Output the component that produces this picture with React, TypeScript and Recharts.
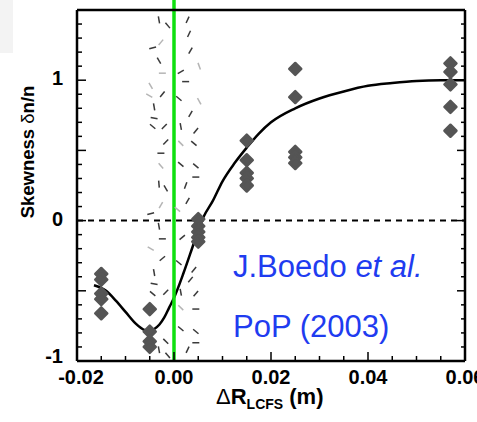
import { ComposedChart, XAxis, YAxis, Line, Scatter, ReferenceLine } from 'recharts'

// measured skewness points (x in m, y skewness)
const skewX = [
  -0.015, -0.015, -0.015, -0.015, -0.015,
  -0.005, -0.005, -0.005, -0.005,
  0.005, 0.005, 0.005, 0.005, 0.005,
  0.015, 0.015, 0.015, 0.015, 0.015,
  0.025, 0.025, 0.025, 0.025, 0.025,
  0.057, 0.057, 0.057, 0.057, 0.057,
]
const skewY = [
  -0.38, -0.42, -0.52, -0.56, -0.66,
  -0.63, -0.79, -0.86, -0.9,
  0.01, -0.04, -0.08, -0.12, -0.15,
  0.57, 0.43, 0.34, 0.3, 0.25,
  1.08, 0.88, 0.49, 0.45, 0.41,
  1.12, 1.06, 0.97, 0.81, 0.64,
]

// fitted curve
const curveX = [-0.0165, -0.014, -0.012, -0.01, -0.008, -0.006, -0.005, -0.004, -0.003, -0.002, -0.001, 0, 0.002, 0.004, 0.005, 0.006, 0.008, 0.01, 0.0125, 0.015, 0.0175, 0.02, 0.025, 0.03, 0.035, 0.04, 0.045, 0.05, 0.055, 0.06]
const curveY = [-0.46, -0.5, -0.57, -0.65, -0.73, -0.78, -0.785, -0.77, -0.74, -0.69, -0.62, -0.55, -0.37, -0.17, -0.07, 0.02, 0.14, 0.28, 0.41, 0.52, 0.62, 0.7, 0.8, 0.87, 0.92, 0.96, 0.98, 0.995, 1.0, 1.0]

// scattered dash marks of the separatrix uncertainty band
const bandX = [-0.0031, -0.0013, 0.0028, -0.0027, 0.0031, -0.0044, 0.0034, -0.0031, 0.0052, -0.0024, 0.0014, 0.0024, -0.0048, -0.0024, -0.0051, 0.001, -0.0041, 0.0052, -0.0041, 0.0034, -0.0044, -0.002, 0.0014, 0.0045, -0.0017, 0.0014, 0.0041, -0.0027, 0.0014, -0.0027, 0.0045, 0.0045, -0.0031, 0.0024, -0.0017, 0.0028, -0.0027, 0.0007, -0.0048, -0.0031, -0.0024, 0.0017, -0.0048, -0.0024, 0.001, -0.0041, 0.0041, -0.0041, 0.0034, -0.0044, -0.0017, 0.0014, 0.0045, 0.0014, 0.0045, 0.0014, 0.0045, -0.0017, 0.0045, -0.0031, 0.0028, -0.0013]
const bandY = [1.43, 1.39, 1.43, 1.27, 1.33, 1.23, 1.21, 1.14, 1.1, 1.05, 1.06, 0.99, 0.96, 0.9, 0.89, 0.87, 0.81, 0.85, 0.73, 0.76, 0.67, 0.67, 0.67, 0.64, 0.56, 0.55, 0.55, 0.48, 0.4, 0.39, 0.39, 0.31, 0.26, 0.25, 0.23, 0.14, 0.11, 0.08, 0.05, -0.04, -0.13, -0.12, -0.2, -0.27, -0.3, -0.37, -0.35, -0.45, -0.42, -0.52, -0.51, -0.51, -0.52, -0.62, -0.63, -0.77, -0.79, -0.86, -0.87, -0.92, -0.92, -0.96]
const bandAngle = [80, 50, -65, -50, -65, -15, -60, 60, 70, 0, -30, 0, 60, -50, 30, 40, 80, 60, 10, -60, 40, -45, 80, -50, -45, 45, 40, 0, 40, 50, 40, 0, 85, -70, 60, -60, -60, 40, -15, 80, 0, -40, 30, -40, 40, 80, -50, 10, -50, 40, -45, 80, -50, 45, 0, 40, 40, 45, 0, 80, -65, 50]
const bandFaint = [0, 0, 0, 1, 0, 0, 0, 0, 1, 1, 0, 0, 1, 0, 1, 0, 0, 1, 0, 0, 0, 0, 0, 0, 0, 1, 0, 0, 0, 1, 0, 0, 0, 0, 0, 0, 1, 1, 0, 0, 0, 0, 1, 0, 0, 0, 0, 0, 0, 0, 0, 0, 0, 1, 0, 0, 0, 0, 0, 0, 0, 0]

const xTicks = [-0.02, -0.015, -0.01, -0.005, 0, 0.005, 0.01, 0.015, 0.02, 0.025, 0.03, 0.035, 0.04, 0.045, 0.05, 0.055, 0.06]
const xLabels = [-0.02, 0, 0.02, 0.04, 0.06]
const yTicks = [-1, -0.9, -0.8, -0.7, -0.6, -0.5, -0.4, -0.3, -0.2, -0.1, 0, 0.1, 0.2, 0.3, 0.4, 0.5, 0.6, 0.7, 0.8, 0.9, 1, 1.1, 1.2, 1.3, 1.4, 1.5]
const yMajor = [-1, -0.5, 0, 0.5, 1]
const yLabels = [-1, 0, 1]

const points = skewX.map((x, i) => ({ x, y: skewY[i] }))
const curve = curveX.map((x, i) => ({ x, y: curveY[i] }))
const band = bandX.map((x, i) => ({ x, y: bandY[i], a: bandAngle[i], f: bandFaint[i] }))

const near = (a: number, b: number) => Math.abs(a - b) < 1e-6
const isXLabel = (v: number) => xLabels.some((t) => near(t, v))
const isYMajor = (v: number) => yMajor.some((t) => near(t, v))
const isYLabel = (v: number) => yLabels.some((t) => near(t, v))

const font = 'Liberation Sans, Arial, sans-serif'
const tickFont = { fontFamily: font, fontWeight: 700, fontSize: 20 }

const BottomTick = ({ x, y, payload }: any) => {
  const v = payload.value
  const major = isXLabel(v)
  return (
    <g>
      <line x1={x} x2={x} y1={y} y2={y - (major ? 9 : 5)} stroke="#000" strokeWidth={1.5} />
      {major && (
        <text x={x + (v < 0 ? 4 : 0)} y={y + 23} textAnchor="middle" fill="#000" style={tickFont}>
          {v.toFixed(2)}
        </text>
      )}
    </g>
  )
}

const TopTick = ({ x, y, payload }: any) => {
  const major = isXLabel(payload.value)
  return <line x1={x} x2={x} y1={y} y2={y + (major ? 8 : 4)} stroke="#000" strokeWidth={1.5} />
}

const LeftTick = ({ x, y, payload }: any) => {
  const v = payload.value
  return (
    <g>
      <line x1={x} x2={x + (isYMajor(v) ? 9 : 5)} y1={y} y2={y} stroke="#000" strokeWidth={1.5} />
      {isYLabel(v) && (
        <text x={x - 14} y={y + (v < 0 ? 2 : 5)} textAnchor="end" fill="#000" style={tickFont}>
          {String(v)}
        </text>
      )}
    </g>
  )
}

const RightTick = ({ x, y, payload }: any) => (
  <line x1={x} x2={x - (isYMajor(payload.value) ? 8 : 4)} y1={y} y2={y} stroke="#000" strokeWidth={1.5} />
)

const Diamond = ({ cx, cy }: any) => (
  <polygon
    points={`${cx},${cy - 6} ${cx + 6},${cy} ${cx},${cy + 6} ${cx - 6},${cy}`}
    fill="#555"
    stroke="#555"
    strokeWidth={2.5}
    strokeLinejoin="round"
  />
)

const Dash = ({ cx, cy, payload }: any) => {
  const r = (payload.a * Math.PI) / 180
  const dx = Math.cos(r) * 3.5
  const dy = Math.sin(r) * 3.5
  return (
    <line
      x1={cx - dx}
      y1={cy - dy}
      x2={cx + dx}
      y2={cy + dy}
      stroke={payload.f ? '#b5b5b5' : '#3a3a3a'}
      strokeWidth={1.5}
    />
  )
}

const GreenLine = (p: any) => (
  <line x1={p.x1} x2={p.x2} y1={0} y2={Math.max(p.y1, p.y2)} stroke="#0fe00f" strokeWidth={3.5} />
)

export default function App() {
  return (
    <div style={{ position: 'absolute', left: 0, top: 0, width: 477, height: 422, background: '#fff', overflow: 'hidden' }}>
      <div style={{ position: 'absolute', left: 0, top: 0, width: 13, height: 53, background: '#f3f3f3' }} />
      <ComposedChart
        width={477}
        height={422}
        margin={{ top: 9, right: 11, left: 76, bottom: 60 }}
        style={{ position: 'absolute', left: 0, top: 0 }}
      >
        <XAxis
          dataKey="x"
          type="number"
          domain={[-0.02, 0.06]}
          ticks={xTicks}
          interval={0}
          height={1}
          tickSize={0}
          tickMargin={0}
          tickLine={false}
          tick={<BottomTick />}
          axisLine={{ stroke: '#000', strokeWidth: 2.5 }}
          allowDataOverflow
        />
        <XAxis
          xAxisId="top"
          orientation="top"
          type="number"
          domain={[-0.02, 0.06]}
          ticks={xTicks}
          interval={0}
          height={1}
          tickSize={0}
          tickMargin={0}
          tickLine={false}
          tick={<TopTick />}
          axisLine={{ stroke: '#000', strokeWidth: 2.5 }}
          allowDataOverflow
        />
        <YAxis
          dataKey="y"
          type="number"
          domain={[-1, 1.5]}
          ticks={yTicks}
          interval={0}
          width={1}
          tickSize={0}
          tickMargin={0}
          tickLine={false}
          tick={<LeftTick />}
          axisLine={{ stroke: '#000', strokeWidth: 2.5 }}
          allowDataOverflow
        />
        <YAxis
          yAxisId="right"
          orientation="right"
          type="number"
          domain={[-1, 1.5]}
          ticks={yTicks}
          interval={0}
          width={1}
          tickSize={0}
          tickMargin={0}
          tickLine={false}
          tick={<RightTick />}
          axisLine={{ stroke: '#000', strokeWidth: 2.5 }}
          allowDataOverflow
        />
        <Scatter data={band} dataKey="y" shape={<Dash />} isAnimationActive={false} />
        <ReferenceLine y={0} stroke="#000" strokeWidth={2} strokeDasharray="6 5" />
        <Scatter data={points} dataKey="y" shape={<Diamond />} isAnimationActive={false} />
        <Line data={curve} dataKey="y" type="monotone" stroke="#000" strokeWidth={2.5} dot={false} isAnimationActive={false} />
        <ReferenceLine x={0} shape={GreenLine} />
      </ComposedChart>
      <svg width={477} height={422} style={{ position: 'absolute', left: 0, top: 0, pointerEvents: 'none' }}>
        <text
          transform="translate(34,152) rotate(-90)"
          textAnchor="middle"
          fill="#000"
          style={{ fontFamily: font, fontWeight: 700, fontSize: 18.5 }}
        >
          Skewness <tspan fontWeight={400}>δ</tspan>n/n
        </text>
        <text x={216} y={404} fill="#000" style={{ fontFamily: font, fontWeight: 700, fontSize: 22 }}>
          <tspan fontWeight={400}>Δ</tspan>R
          <tspan fontSize={14} dy={5}>LCFS</tspan>
          <tspan dy={-5}> (m)</tspan>
        </text>
        <text x={233} y={277} fill="#1f3cf0" style={{ fontFamily: font, fontSize: 31 }}>
          J.Boedo <tspan fontStyle="italic">et al.</tspan>
        </text>
        <text x={233} y={337} fill="#1f3cf0" style={{ fontFamily: font, fontSize: 31 }}>
          PoP (2003)
        </text>
      </svg>
    </div>
  )
}
